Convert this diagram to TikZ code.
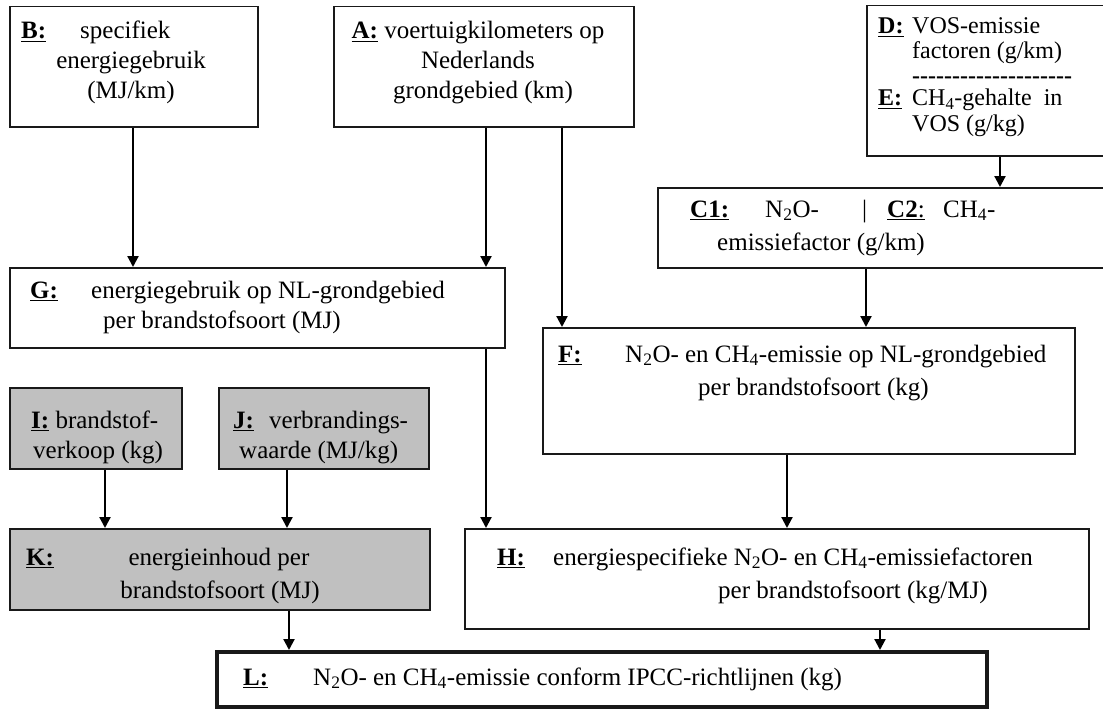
\documentclass[tikz,border=0pt]{standalone}
\usepackage{fontspec}
\setmainfont{Liberation Serif}
\usetikzlibrary{arrows.meta}
\definecolor{boxgray}{RGB}{192,192,192}
\newcommand{\lab}[1]{\underline{\textbf{#1}}}
\begin{document}
\begin{tikzpicture}[x=1pt,y=-1pt,
  box/.style={draw=black!90, line width=1.5pt, fill=white, anchor=north west, inner sep=0pt},
  gbox/.style={box, fill=boxgray},
  t/.style={inner sep=0pt, font=\fontsize{25}{30}\selectfont},
  ts/.style={inner sep=0pt, font=\fontsize{24}{25}\selectfont},
  tl/.style={t, anchor=base west},
  tc/.style={t, anchor=base},
  sl/.style={ts, anchor=base west},
  arr/.style={line width=2.2pt, -{Triangle[length=11pt,width=11pt]}},
]
\useasboundingbox (0,0) rectangle (1103,709);

% boxes
\node[box, minimum width=248pt, minimum height=120pt] (B) at (9,6) {};
\node[box, minimum width=300pt, minimum height=120pt] (A) at (333,6) {};
\node[box, minimum width=250pt, minimum height=150pt] (DE) at (866,5) {};
\node[box, minimum width=460pt, minimum height=80pt] (C) at (657,187) {};
\node[box, minimum width=495pt, minimum height=80pt] (G) at (9,267) {};
\node[box, minimum width=532pt, minimum height=126pt] (F) at (542,327) {};
\node[gbox, minimum width=172pt, minimum height=81pt] (I) at (9,387) {};
\node[gbox, minimum width=210pt, minimum height=81pt] (J) at (218,387) {};
\node[gbox, minimum width=420pt, minimum height=81pt] (K) at (9,528) {};
\node[box, minimum width=624pt, minimum height=100pt] (H) at (464,528) {};
\node[box, line width=4pt, minimum width=770pt, minimum height=55pt] (L) at (215,650) {};

% B
\node[tl] (Bl) at (21,39) {\lab{B:}};
\node[tl] (B1) at (80,39) {specifiek};
\node[tc] (B2) at (131,69) {energiegebruik};
\node[tc] (B3) at (131,99) {(MJ/km)};
% A
\node[tc] (A1) at (478,39) {\lab{A:} voertuigkilometers op};
\node[tc] (A2) at (478,69) {Nederlands};
\node[tc] (A3) at (483,99) {grondgebied (km)};
% D / E
\node[sl] (Dl) at (878,34) {\lab{D:}};
\node[sl] (D1) at (912,34) {VOS-emissie};
\node[sl] (D2) at (912,59) {factoren (g/km)};
\node[sl, font=\fontsize{24}{25}\selectfont\bfseries] (Dd) at (912,83) {-{}-{}-{}-{}-{}-{}-{}-{}-{}-{}-{}-{}-{}-{}-{}-{}-{}-{}-{}-};
\node[sl] (El) at (878,106) {\lab{E:}};
\node[sl] (E1) at (912,106) {CH\textsubscript{4}-gehalte\ \ in};
\node[sl] (E2) at (912,131) {VOS (g/kg)};
% C
\node[tl] (C1l) at (690,217) {\lab{C1:}};
\node[tl] (C1t) at (765,217) {N\textsubscript{2}O-};
\node[tl] (Cbar) at (862,217) {|};
\node[tl] (C2l) at (887,217) {\underline{\textbf{C2}:}};
\node[tl] (C2t) at (943,217) {CH\textsubscript{4}-};
\node[tl] (C3) at (717,250) {emissiefactor (g/km)};
% G
\node[tl] (Gl) at (30,298) {\lab{G:}};
\node[tl] (G1) at (91,298) {energiegebruik op NL-grondgebied};
\node[tl] (G2) at (103,328) {per brandstofsoort (MJ)};
% F
\node[tl] (Fl) at (558,362) {\lab{F:}};
\node[tl] (F1) at (625,362) {N\textsubscript{2}O- en CH\textsubscript{4}-emissie op NL-grondgebied};
\node[tl] (F2) at (698,395) {per brandstofsoort (kg)};
% I
\node[tl] (I1) at (31,428) {\lab{I:} brandstof-};
\node[tl] (I2) at (33,458) {verkoop (kg)};
% J
\node[tl] (Jl) at (233,428) {\lab{J:}};
\node[tl] (J1) at (269,428) {verbrandings-};
\node[tl] (J2) at (239,458) {waarde (MJ/kg)};
% K
\node[tl] (Kl) at (26,565) {\lab{K:}};
\node[tc] (K1) at (219,565) {energieinhoud per};
\node[tc] (K2) at (220,598) {brandstofsoort (MJ)};
% H
\node[tl] (Hl) at (497,565) {\lab{H:}};
\node[tl] (H1) at (553,565) {energiespecifieke N\textsubscript{2}O- en CH\textsubscript{4}-emissiefactoren};
\node[tl] (H2) at (718,598) {per brandstofsoort (kg/MJ)};
% L
\node[tl] (Ll) at (243,685) {\lab{L:}};
\node[tl] (L1) at (313,685) {N\textsubscript{2}O- en CH\textsubscript{4}-emissie conform IPCC-richtlijnen (kg)};

% arrow columns
\coordinate (xBG) at (133,0);
\coordinate (xAG) at (486,0);
\coordinate (xAF) at (562,0);
\coordinate (xDC) at (1000,0);
\coordinate (xCF) at (866,0);
\coordinate (xFH) at (787,0);
\coordinate (xIK) at (105,0);
\coordinate (xJK) at (287,0);
\coordinate (xKL) at (289,0);
\coordinate (xHL) at (880,0);

\draw[arr] (B.south -| xBG) -- (G.north -| xBG);
\draw[arr] (A.south -| xAG) -- (G.north -| xAG);
\draw[arr] (A.south -| xAF) -- (F.north -| xAF);
\draw[arr] (DE.south -| xDC) -- (C.north -| xDC);
\draw[arr] (C.south -| xCF) -- (F.north -| xCF);
\draw[arr] (G.south -| xAG) -- (H.north -| xAG);
\draw[arr] (F.south -| xFH) -- (H.north -| xFH);
\draw[arr] (I.south -| xIK) -- (K.north -| xIK);
\draw[arr] (J.south -| xJK) -- (K.north -| xJK);
\draw[arr] (K.south -| xKL) -- (L.north -| xKL);
\draw[arr] (H.south -| xHL) -- (L.north -| xHL);
\end{tikzpicture}
\end{document}
